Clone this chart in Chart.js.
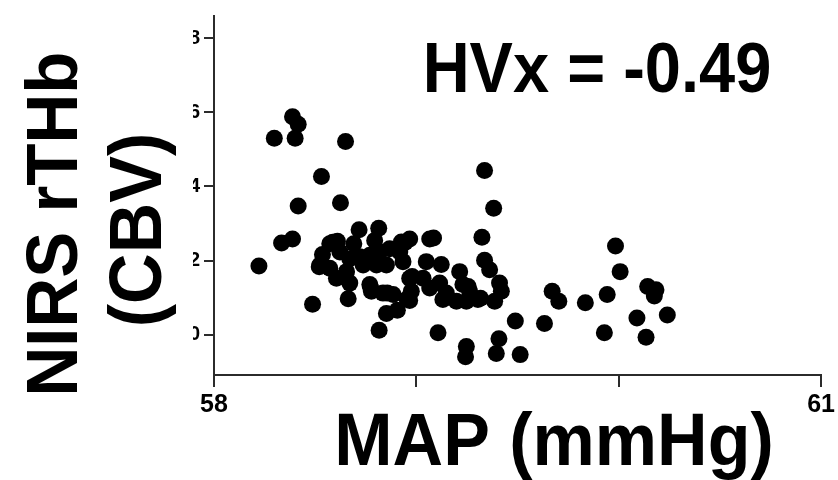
<!DOCTYPE html>
<html>
<head>
<meta charset="utf-8">
<script src="https://cdn.jsdelivr.net/npm/chart.js@4/dist/chart.umd.min.js"></script>
<style>
  html, body { margin: 0; padding: 0; background: #fff; overflow: hidden; }
  #wrap { width: 838px; height: 480px; }
</style>
</head>
<body>
<div id="wrap"><canvas id="myChart" width="838" height="480"></canvas></div>
<script>
// MAP (mmHg) vs NIRS rTHb
const mapValues = [
    58.388, 58.416, 58.298, 58.401, 58.650, 58.531, 58.416, 58.625, 59.337, 59.382,
    59.324, 58.388, 58.334, 58.222, 58.487, 58.663, 58.816, 58.852, 58.906, 59.107,
    59.247, 59.243, 59.408, 59.395, 59.513, 59.489,
    59.633, 59.671, 59.704, 59.835, 59.984, 60.007, 59.943, 59.929, 60.143, 60.184,
    60.176, 60.090, 60.240, 60.135,
    58.717, 58.814, 58.572, 58.610, 58.691, 58.794, 58.926, 58.967, 59.066, 59.085,
    58.536, 58.523, 58.572, 58.622, 58.671, 58.720, 58.770, 58.819, 58.868, 58.918,
    58.934, 58.852, 58.803, 58.737, 58.655, 58.605, 58.671, 58.770, 58.778, 58.835,
    58.885, 58.967, 58.975, 58.967, 59.049, 59.123, 59.033, 59.115, 59.066, 59.148,
    59.214, 59.230, 59.263, 59.198, 59.247, 59.304, 59.337, 59.362, 59.411, 59.420,
    59.387, 59.131, 58.587, 58.520, 58.775, 58.856, 58.944, 58.954, 58.979, 59.256,
    59.317
];
const rthbValues = [
    5.88, 5.68, 5.30, 5.30, 5.21, 4.27, 3.47, 3.56, 4.43, 3.41,
    2.63, 2.58, 2.47, 1.85, 0.82, 0.97, 0.12, 0.57, 0.66, 0.05,
    -0.32, -0.60, -0.11, -0.51, -0.54, 0.37,
    0.30, 1.17, 0.90, 0.86, 2.39, 1.70, 1.08, 0.05, 1.30, 1.21,
    1.04, 0.45, 0.53, -0.07,
    2.83, 2.87, 2.45, 2.52, 2.45, 2.54, 2.50, 2.58, 2.58, 2.61,
    2.16, 1.88, 1.79, 2.23, 2.05, 2.10, 2.14, 2.23, 2.32, 2.23,
    1.97, 1.88, 1.88, 1.88, 1.70, 1.52, 1.39, 1.35, 1.17, 1.12,
    1.08, 1.52, 1.17, 0.92, 1.97, 1.89, 1.52, 1.39, 1.26, 1.12,
    1.70, 1.35, 1.17, 0.90, 0.90, 0.95, 2.01, 1.75, 1.39, 1.17,
    0.90, 0.95, 2.49, 1.83, 1.25, 1.12, 2.49, 0.96, 1.57, 1.30,
    0.98
];
const xTicks = [58, 59, 60, 61];
const xTickLabels = ['58', '', '', '61'];
const yTicks = [0, 2, 4, 6, 8];
const yTickLabels = ['0', '2', '4', '6', '8'];

const axisColor = '#2b2b2b';
const fontFamily = '"Liberation Sans", Arial, Helvetica, sans-serif';

const points = mapValues.map((x, i) => ({ x: x, y: rthbValues[i] }));

// big bold titles, drawn over the left part of the y tick labels like the original
function stretchedText(ctx, text, x, y, size, sy, angle) {
    ctx.save();
    ctx.translate(x, y);
    if (angle) ctx.rotate(angle);
    ctx.scale(1, sy);
    ctx.font = 'bold ' + size + 'px ' + fontFamily;
    ctx.textAlign = 'center';
    ctx.textBaseline = 'alphabetic';
    ctx.fillStyle = '#000';
    ctx.fillText(text, 0, 0);
    ctx.restore();
}

const titlesPlugin = {
    id: 'titles',
    afterDraw(chart) {
        const ctx = chart.ctx;
        ctx.save();
        ctx.fillStyle = '#fff';
        ctx.fillRect(0, 0, 193, 382);
        ctx.restore();
        stretchedText(ctx, 'NIRS rTHb', 77, 224, 69, 1.05, -Math.PI / 2);
        stretchedText(ctx, '(CBV)', 161, 230, 70, 1.05, -Math.PI / 2);
        stretchedText(ctx, 'MAP (mmHg)', 554, 465, 70, 1.05, 0);
        stretchedText(ctx, 'HVx = -0.49', 597, 92, 65, 1.07, 0);
    }
};

const ctx = document.getElementById('myChart').getContext('2d');

const myChart = new Chart(ctx, {
    type: 'scatter',
    data: {
        datasets: [{
            data: points,
            backgroundColor: '#000',
            borderWidth: 0,
            pointRadius: 8.5,
            pointHoverRadius: 8.5
        }]
    },
    options: {
        responsive: false,
        animation: false,
        layout: {
            padding: { left: 174, right: 16, top: 10, bottom: 0 }
        },
        plugins: {
            legend: { display: false },
            tooltip: { enabled: false }
        },
        scales: {
            x: {
                type: 'linear',
                min: 58,
                max: 61,
                afterBuildTicks: (scale) => { scale.ticks = xTicks.map(v => ({ value: v })); },
                afterFit: (scale) => { scale.height = 105; },
                border: { color: axisColor, width: 2 },
                grid: { drawOnChartArea: false, color: axisColor, lineWidth: 2, tickLength: 12 },
                ticks: {
                    autoSkip: false,
                    maxRotation: 0,
                    padding: 3,
                    color: '#000',
                    font: { family: fontFamily, size: 25, weight: 'bold' },
                    callback: (value) => xTickLabels[xTicks.indexOf(value)] ?? ''
                }
            },
            y: {
                type: 'linear',
                min: -1.09,
                max: 8.6,
                afterBuildTicks: (scale) => { scale.ticks = yTicks.map(v => ({ value: v })); },
                afterFit: (scale) => { scale.width = 40; },
                border: { color: axisColor, width: 2 },
                grid: { drawOnChartArea: false, color: axisColor, lineWidth: 2, tickLength: 10 },
                ticks: {
                    autoSkip: false,
                    padding: 4,
                    color: '#000',
                    font: { family: fontFamily, size: 20, weight: 'bold' },
                    callback: (value) => yTickLabels[yTicks.indexOf(value)] ?? ''
                }
            }
        }
    },
    plugins: [titlesPlugin]
});
</script>
</body>
</html>
